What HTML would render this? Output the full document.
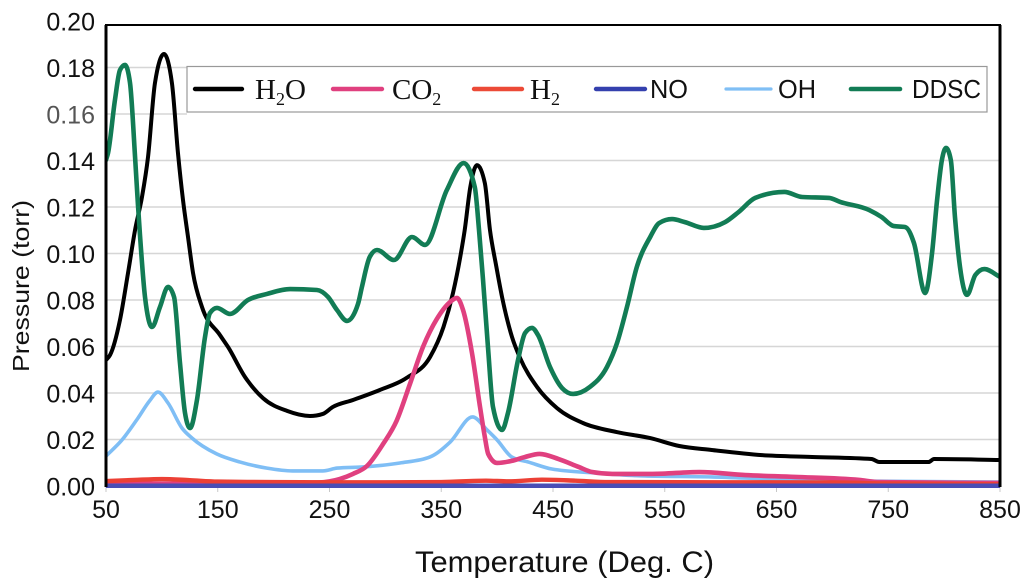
<!DOCTYPE html>
<html lang="en">
<head>
<meta charset="utf-8">
<title>Pressure vs Temperature</title>
<style>
html,body{margin:0;padding:0;background:#fff;width:1024px;height:588px;overflow:hidden}
svg{display:block}
text{font-family:"Liberation Sans",sans-serif;fill:#111}
.serif{font-family:"Liberation Serif",serif}
</style>
</head>
<body>
<svg id="chart" xmlns="http://www.w3.org/2000/svg" width="1024" height="588" viewBox="0 0 1024 588">
  <defs><clipPath id="plot-clip"><rect x="106" y="25" width="894" height="463"/></clipPath></defs>
  <g id="grid"></g>
  <g id="series" clip-path="url(#plot-clip)"></g>
  <g id="frame">
    <line x1="105" y1="25" x2="1001" y2="25" stroke="#000" stroke-width="2"/>
    <line x1="106" y1="25" x2="106" y2="487" stroke="#000" stroke-width="3"/>
    <line x1="1000" y1="25" x2="1000" y2="487" stroke="#000" stroke-width="3"/>
  </g>
  <g id="ticks"></g>
  <text x="415" y="572" font-size="30" textLength="299" lengthAdjust="spacingAndGlyphs">Temperature (Deg. C)</text>
  <text transform="translate(29,372) rotate(-90)" font-size="23" textLength="172" lengthAdjust="spacingAndGlyphs">Pressure (torr)</text>
  <g>
    <rect x="187" y="66.5" width="800" height="45.5" fill="#fff" stroke="#999" stroke-width="1.2"/>
    <g>
      <line x1="195" y1="89" x2="242" y2="89" stroke="#000" stroke-width="4.4" stroke-linecap="round"/>
      <text class="serif" x="255" y="99" font-size="29">H<tspan font-size="18" dy="6">2</tspan><tspan dy="-6">O</tspan></text>
    </g>
    <g>
      <line x1="333" y1="89" x2="382" y2="89" stroke="#e0407f" stroke-width="4.4" stroke-linecap="round"/>
      <text class="serif" x="392" y="99" font-size="29">CO<tspan font-size="18" dy="6">2</tspan></text>
    </g>
    <g>
      <line x1="474" y1="89" x2="522" y2="89" stroke="#ec4a37" stroke-width="4.4" stroke-linecap="round"/>
      <text class="serif" x="530" y="99" font-size="29">H<tspan font-size="18" dy="6">2</tspan></text>
    </g>
    <g>
      <line x1="596" y1="89" x2="645" y2="89" stroke="#3440ae" stroke-width="4.4" stroke-linecap="round"/>
      <text x="650" y="98" font-size="26" textLength="38" lengthAdjust="spacingAndGlyphs">NO</text>
    </g>
    <g>
      <line x1="726" y1="89" x2="771" y2="89" stroke="#80bff5" stroke-width="3.2" stroke-linecap="round"/>
      <text x="778" y="98" font-size="26" textLength="38" lengthAdjust="spacingAndGlyphs">OH</text>
    </g>
    <g>
      <line x1="851" y1="89" x2="900" y2="89" stroke="#127c55" stroke-width="4.6" stroke-linecap="round"/>
      <text x="912" y="98" font-size="26" textLength="69" lengthAdjust="spacingAndGlyphs">DDSC</text>
    </g>
  </g>
</svg>
<script>
var xTickLabels = ['50','150','250','350','450','550','650','750','850'];
var yTickLabels = ['0.00','0.02','0.04','0.06','0.08','0.10','0.12','0.14','0.16','0.18','0.20'];

var h2oTemps = [50,53.6,62.5,69.7,76,82.2,87.6,93.8,101.9,109,114.4,118.9,123.4,127.9,135.9,152,159.2,174.4,190.5,212,232.5,244,253,271,295,319,340,352,360.5,367,371,376,382,389,393.6,399,404.4,413.3,420.5,435.7,453.6,476.8,507,537,563,592,637,682,735,742,786,791,850];
var h2oValues = [0.0542,0.0563,0.0714,0.0916,0.1101,0.1243,0.1415,0.1733,0.1858,0.1733,0.1432,0.123,0.1071,0.0916,0.077,0.0649,0.0598,0.0469,0.0378,0.0323,0.0301,0.031,0.034,0.037,0.0413,0.0465,0.0555,0.0684,0.083,0.0985,0.1101,0.1286,0.138,0.1303,0.1101,0.0951,0.0813,0.0641,0.0551,0.0426,0.0335,0.0271,0.0232,0.0206,0.0172,0.0155,0.0133,0.0125,0.0116,0.0103,0.0103,0.0116,0.0112];

var ddscTemps = [50,51.8,58,62.5,67,71.5,76,78.6,80.4,84.9,91.2,98.3,105.5,110.9,116.2,120.7,125.2,131.4,138.6,143,149.3,161,177,194,214.7,238.8,248.7,256.7,265.7,275.5,279,286,292.5,307.7,323.8,335.5,355,370,380,383.8,387.4,391.8,396.3,404.4,409.7,418.7,425,431.2,436.6,447.3,458,468,483,498.3,507.3,516.2,525,537,545,556.5,568,585,604,616,631,657,673,697,707,733,744,755,765,773,783,789.2,793.7,798,801.7,806,809.7,814.2,820.5,828,836,850];
var ddscValues = [0.1402,0.1432,0.166,0.1789,0.1811,0.1733,0.1415,0.1209,0.108,0.0813,0.0684,0.077,0.0856,0.0813,0.0529,0.0314,0.0249,0.037,0.0641,0.0744,0.0766,0.074,0.08,0.0826,0.0847,0.0843,0.0813,0.0757,0.071,0.0783,0.0856,0.0985,0.1015,0.0972,0.1071,0.1037,0.1273,0.1389,0.1286,0.1101,0.0886,0.0598,0.034,0.0241,0.0314,0.0542,0.0658,0.068,0.0649,0.0512,0.0422,0.0396,0.0426,0.0512,0.0615,0.077,0.0942,0.1071,0.1131,0.1148,0.1135,0.111,0.1135,0.1178,0.1239,0.1265,0.1243,0.1239,0.1222,0.1187,0.1157,0.1118,0.1114,0.1045,0.083,0.1002,0.123,0.1402,0.1454,0.1402,0.1157,0.0942,0.0822,0.0908,0.0933,0.0899];

var ohTemps = [50,64.3,78.6,89,96.5,105.5,118,127,149,170,194,217,244,257,280,313,340,358,378,391,400,413,428,449,488,532,592,646,711,850];
var ohValues = [0.0129,0.0198,0.0292,0.0366,0.0404,0.0357,0.0249,0.0206,0.0138,0.0103,0.0077,0.0065,0.0065,0.0077,0.0082,0.0099,0.0125,0.0189,0.0297,0.0241,0.0198,0.0125,0.0103,0.0073,0.0056,0.0043,0.0039,0.003,0.0022,0.0017];

var co2Temps = [50,200,240,259,271,283.5,298,310,322,334,346,357.8,364,369.5,377.5,384.7,389,392,400,413,425,438,455,473,485,503,539,581,622,666.5,724,742,850];
var co2Values = [0.001,0.001,0.0015,0.003,0.0052,0.0086,0.0181,0.028,0.0439,0.0602,0.0718,0.0791,0.0809,0.0757,0.0572,0.034,0.0211,0.0138,0.0099,0.0108,0.0125,0.0138,0.0116,0.0082,0.006,0.0052,0.0052,0.006,0.0047,0.0039,0.0026,0.0017,0.0013];

var h2Temps = [50,75,100,125,150,200,250,300,350,390,410,440,470,500,600,700,750,850];
var h2Values = [0.0021,0.0026,0.003,0.0025,0.0019,0.0017,0.0016,0.0016,0.0017,0.0023,0.002,0.0027,0.0023,0.0017,0.0016,0.0015,0.0011,0.0008];

var noTemps = [50,250,450,650,850];
var noValues = [0.0001,0.0001,0.0001,0.0001,0.0001];

function xScale(t){ return 106 + (t - 50) * 1.1175; }
function yScale(v){ return 486 - v * 2325; }

var NS = 'http://www.w3.org/2000/svg';
var gridGroup = document.getElementById('grid');
var tickGroup = document.getElementById('ticks');
var seriesGroup = document.getElementById('series');

yTickLabels.forEach(function(label){
  var v = parseFloat(label);
  var py = yScale(v);
  if (v > 0 && v < 0.19) {
    var g = document.createElementNS(NS, 'line');
    
    
    g.setAttribute('x1', 106);
    g.setAttribute('x2', v >= 0.16 ? 187 : 1000);
    g.setAttribute('y1', py);
    g.setAttribute('y2', py);
    g.setAttribute('stroke', '#d6d6d6');
    g.setAttribute('stroke-width', '1.4');
    gridGroup.appendChild(g);
  }
  var t = document.createElementNS(NS, 'text');
  
  
  t.setAttribute('x', 95);
  t.setAttribute('y', py + 9.5);
  t.setAttribute('text-anchor', 'end');
  t.setAttribute('font-size', '25');
  if (label === '0.16') t.setAttribute('style', 'fill:#555');
  t.textContent = label;
  tickGroup.appendChild(t);
});

xTickLabels.forEach(function(label){
  var px = xScale(parseFloat(label));
  var m = document.createElementNS(NS, 'line');
  
  
  m.setAttribute('x1', px);
  m.setAttribute('x2', px);
  m.setAttribute('y1', 486);
  m.setAttribute('y2', 492);
  m.setAttribute('stroke', '#c8c8c8');
  m.setAttribute('stroke-width', '1');
  gridGroup.appendChild(m);
  var t = document.createElementNS(NS, 'text');
  
  
  t.setAttribute('x', px);
  t.setAttribute('y', 518);
  t.setAttribute('text-anchor', 'middle');
  t.setAttribute('font-size', '25');
  t.textContent = label;
  tickGroup.appendChild(t);
});

function smoothPath(temps, values){
  var xs = temps.map(xScale), ys = values.map(yScale), n = xs.length, slopes = [];
  for (var i = 0; i < n; i++) {
    if (i === 0 || i === n - 1) { slopes.push(null); continue; }
    var h0 = xs[i] - xs[i - 1], h1 = xs[i + 1] - xs[i];
    var s0 = (ys[i] - ys[i - 1]) / h0, s1 = (ys[i + 1] - ys[i]) / h1;
    var p = (s0 * h1 + s1 * h0) / (h0 + h1);
    var sg = (s0 < 0 ? -1 : 1) + (s1 < 0 ? -1 : 1);
    slopes.push(sg * Math.min(Math.abs(s0), Math.abs(s1), 0.5 * Math.abs(p)));
  }
  slopes[0] = (ys[1] - ys[0]) / (xs[1] - xs[0]);
  slopes[n - 1] = (ys[n - 1] - ys[n - 2]) / (xs[n - 1] - xs[n - 2]);
  var d = 'M' + xs[0].toFixed(2) + ' ' + ys[0].toFixed(2);
  for (var j = 0; j < n - 1; j++) {
    var dx = (xs[j + 1] - xs[j]) / 3;
    d += ' C' + (xs[j] + dx).toFixed(2) + ' ' + (ys[j] + slopes[j] * dx).toFixed(2) +
         ' ' + (xs[j + 1] - dx).toFixed(2) + ' ' + (ys[j + 1] - slopes[j + 1] * dx).toFixed(2) +
         ' ' + xs[j + 1].toFixed(2) + ' ' + ys[j + 1].toFixed(2);
  }
  return d;
}

function drawLine(name, temps, values, color, width){
  var el = document.createElementNS(NS, 'path');
  
  
  el.setAttribute('d', smoothPath(temps, values));
  el.setAttribute('fill', 'none');
  el.setAttribute('stroke', color);
  el.setAttribute('stroke-width', width);
  el.setAttribute('stroke-linejoin', 'round');
  el.setAttribute('stroke-linecap', 'round');
  seriesGroup.appendChild(el);
}

drawLine('h2o-line', h2oTemps, h2oValues, '#000000', 4);
drawLine('ddsc-line', ddscTemps, ddscValues, '#127c55', 4.6);
drawLine('oh-line', ohTemps, ohValues, '#7fbef5', 3.6);
drawLine('co2-line', co2Temps, co2Values, '#e0407f', 4.6);
drawLine('h2-line', h2Temps, h2Values, '#ec4035', 4.4);
drawLine('no-line', noTemps, noValues, '#4a4db5', 4.5);
</script>
</body>
</html>
